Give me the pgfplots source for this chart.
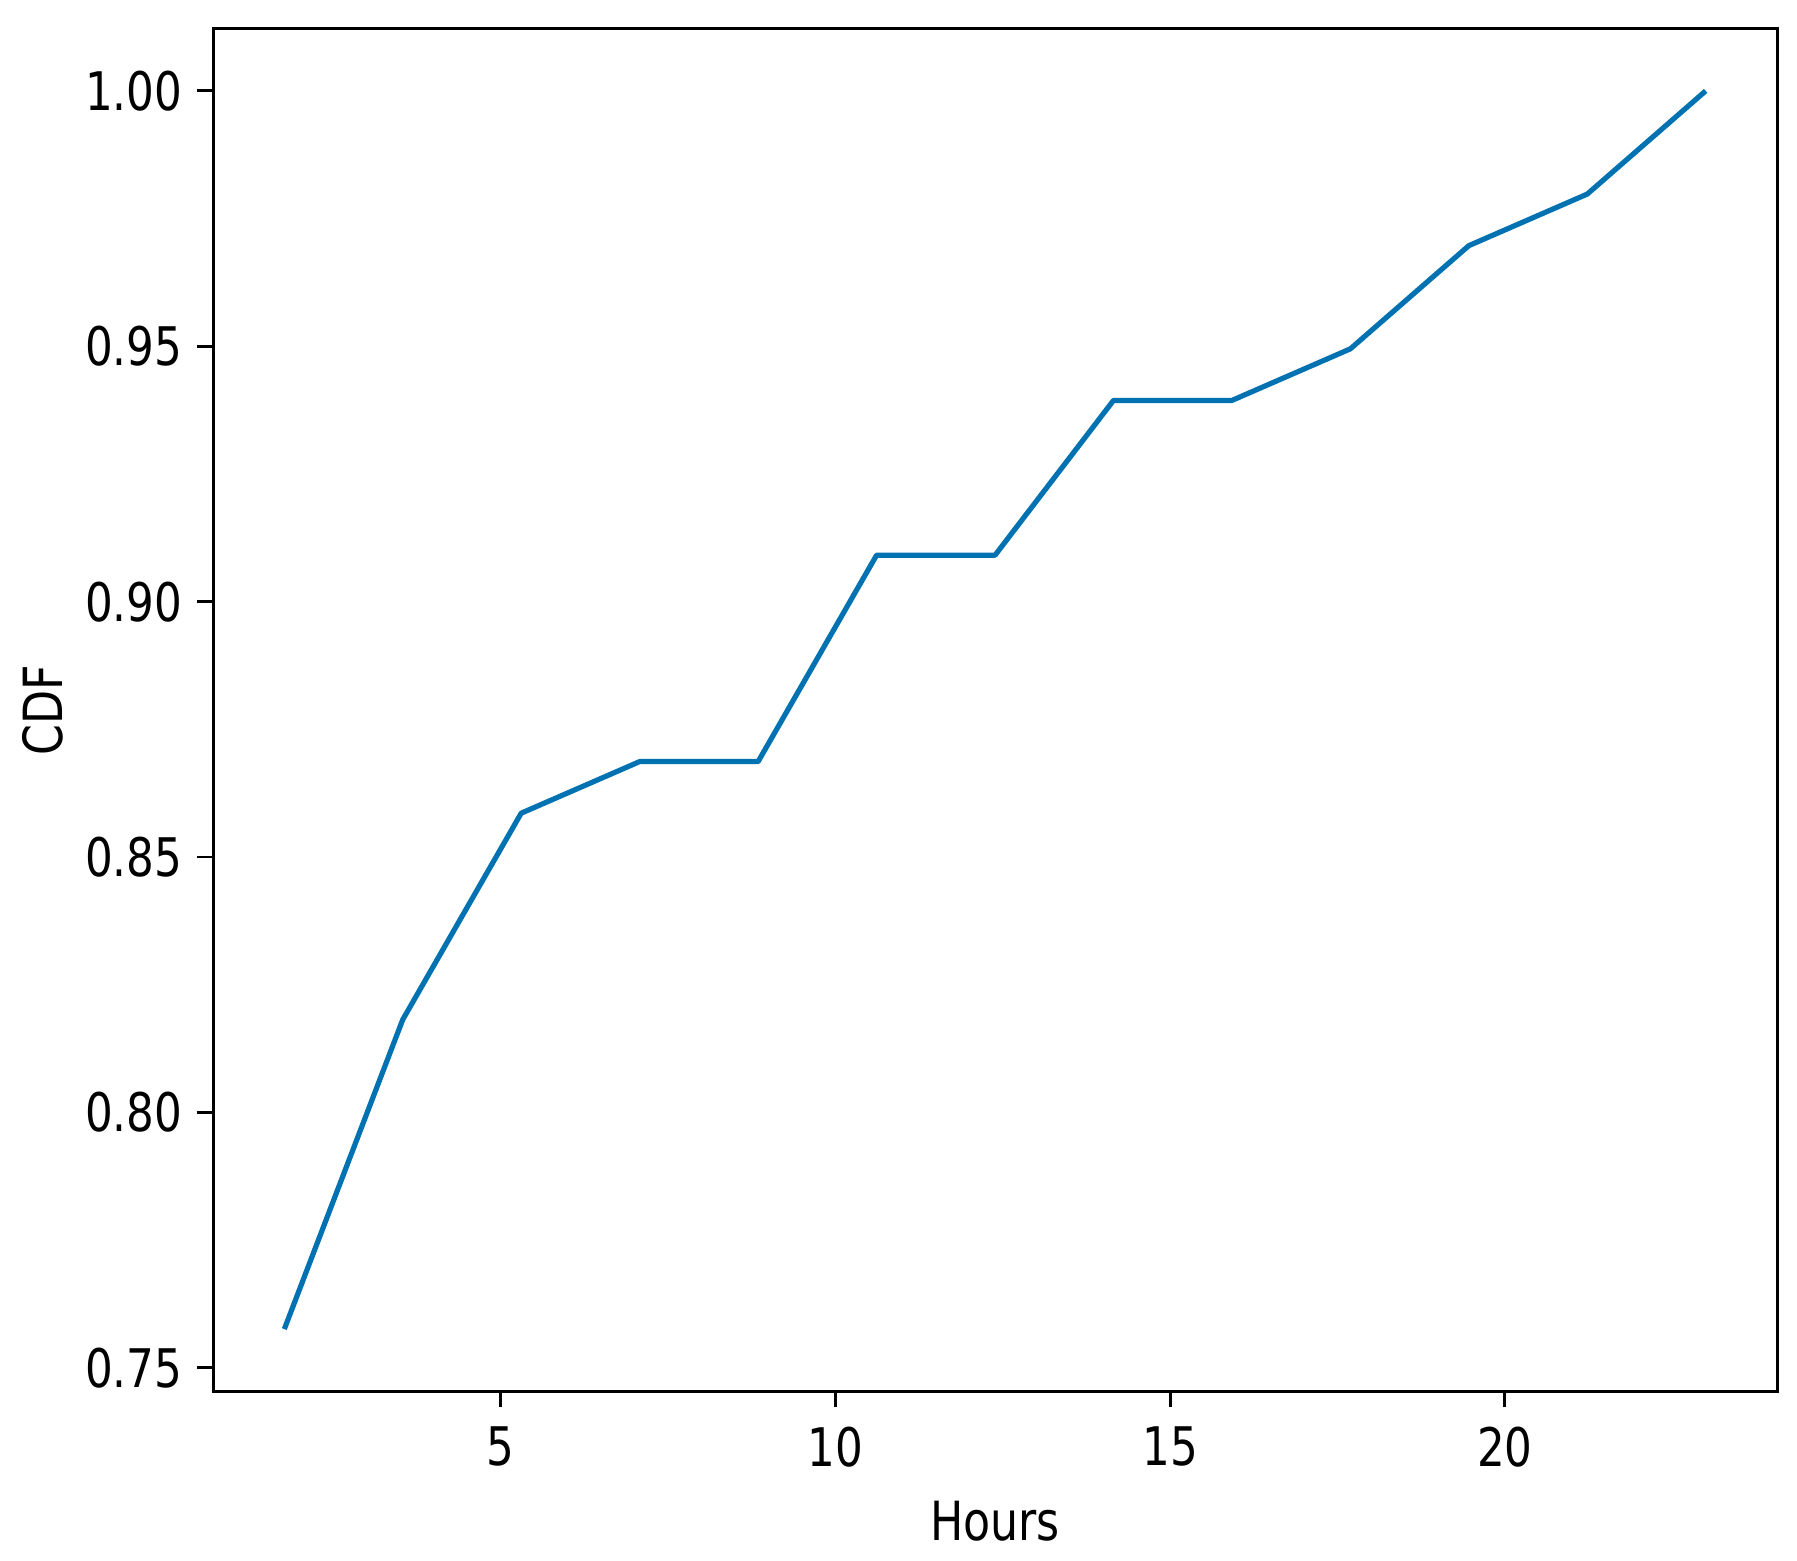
\documentclass[border=0pt]{standalone}
\usepackage{pgfplots}
\pgfplotsset{compat=1.18}
\usepackage{fontspec}
\setmainfont[FakeStretch=0.82]{DejaVu Sans}
\definecolor{linec}{RGB}{0,114,178}
\begin{document}
\fontsize{13.3pt}{15pt}\selectfont
\begin{tikzpicture}
\path[use as bounding box] (-53.25pt,-42.5pt) rectangle (396pt,347.75pt);
\begin{axis}[
  at={(0,0)}, anchor=south west,
  scale only axis, width=391pt, height=340.5pt,
  xmin=0.7038, xmax=24.0654,
  ymin=0.745455, ymax=1.012121,
  xtick={5,10,15,20},
  ytick={0.75,0.80,0.85,0.90,0.95,1.00},
  yticklabel style={/pgf/number format/fixed, /pgf/number format/fixed zerofill, /pgf/number format/precision=2},
  /pgf/number format/assume math mode=true,
  tick pos=left, tick align=outside,
  major tick length=4pt,
  every tick/.style={black, line width=0.7pt},
  axis line style={line width=0.75pt},
  xticklabel style={anchor=north, inner sep=0pt, yshift=-4.75pt, font=\fontsize{13.3pt}{15pt}\selectfont},
  yticklabel style={anchor=east, inner sep=0pt, xshift=-3.5pt, font=\fontsize{13.3pt}{15pt}\selectfont},
  xlabel={Hours}, ylabel={CDF},
  xlabel style={at={(axis description cs:0.5,0)}, anchor=base, yshift=-37.25pt, inner sep=0pt, font=\fontsize{13.5pt}{15pt}\selectfont},
  ylabel style={at={(axis description cs:-0.1087,0.5)}, anchor=center, inner sep=0pt, font=\fontsize{13.5pt}{15pt}\selectfont},
]
\addplot[linec, line width=1.3pt, line join=round, mark=none] coordinates {
(1.76923,0.757576)
(3.53846,0.818182)
(5.30769,0.858586)
(7.07692,0.868687)
(8.84615,0.868687)
(10.61538,0.909091)
(12.38462,0.909091)
(14.15385,0.939394)
(15.92308,0.939394)
(17.69231,0.949495)
(19.46154,0.969697)
(21.23077,0.979798)
(23.00000,1.000000)
};
\end{axis}
\end{tikzpicture}
\end{document}
